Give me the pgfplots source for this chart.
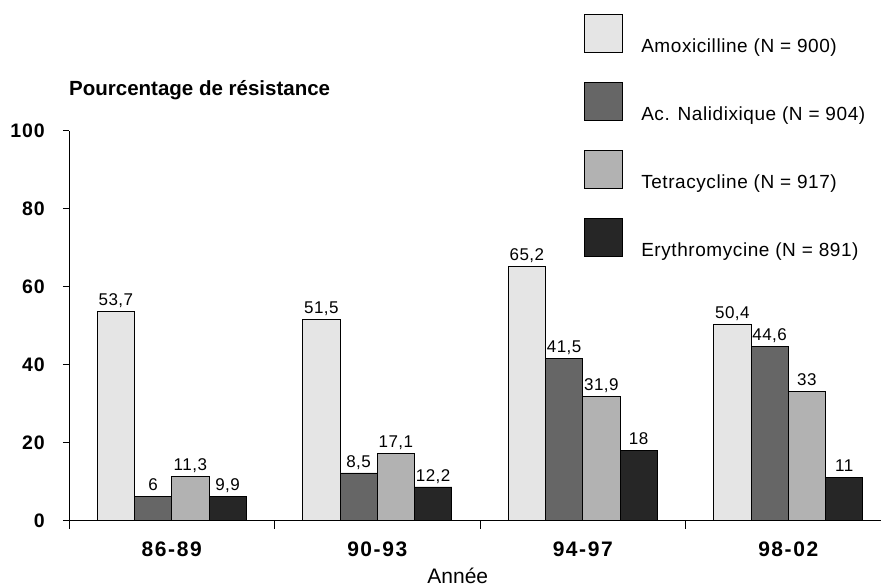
\documentclass[border=0pt]{standalone}
\usepackage{fontspec}
\setmainfont{Liberation Sans}
\usepackage{pgfplots}
\pgfplotsset{compat=1.18}
\usepackage{pgfplotstable}
\definecolor{camox}{HTML}{E5E5E5}
\definecolor{cnal}{HTML}{666666}
\definecolor{ctet}{HTML}{B2B2B2}
\definecolor{cery}{HTML}{262626}
\pgfplotsset{boxlegend/.style={legend image code/.code={\draw[##1,line width=0.8pt] (0pt,0pt) rectangle (38.4pt,38.4pt);}}}

\pgfplotstableread{
x y label
0 53.7 53,7
1 51.5 51,5
2 65.2 65,2
3 50.4 50,4
}\amox
\pgfplotstableread{
x y label
0 6.2 6
1 12.2 8,5
2 41.5 41,5
3 44.6 44,6
}\nal
\pgfplotstableread{
x y label
0 11.3 11,3
1 17.1 17,1
2 31.9 31,9
3 33 33
}\tet
\pgfplotstableread{
x y label
0 6.2 9,9
1 8.6 12,2
2 18 18
3 11 11
}\ery

\begin{document}
\begin{tikzpicture}
\useasboundingbox (0,0) rectangle (882pt,-587pt);
\begin{axis}[
  at={(69pt,-520.5pt)}, anchor=south west,
  x=205.5pt, y=3.9pt,
  xmin=-0.5, xmax=3.45, ymin=0, ymax=100,
  axis x line=bottom, axis y line=left,
  axis line style={-, line width=0.8pt, black},
  ybar=0pt, bar width=37.25pt,
  xtick={0,1,2,3}, xticklabels={86-89,90-93,94-97,98-02},
  minor xtick={-0.5,0.5,1.5,2.5},
  ytick={0,20,...,100},
  tick align=outside,
  major tick length=6pt, minor tick length=8pt,
  every major x tick/.append style={draw=none},
  tick style={black, line width=0.8pt},
  /pgf/number format/assume math mode=true,
  yticklabel style={font=\bfseries\fontsize{19.5}{19.5}\selectfont\addfontfeature{LetterSpace=5}, anchor=east, inner sep=0pt, xshift=-18pt},
  xticklabel style={font=\bfseries\fontsize{21}{21}\selectfont\addfontfeature{LetterSpace=7.5}, anchor=base, inner sep=0pt, yshift=-29.5pt},
  title={Pourcentage de résistance},
  title style={at={(axis description cs:0,1)}, anchor=base west, yshift=28.8pt, inner sep=0pt, font=\bfseries\fontsize{20.5}{20.5}\selectfont},
  xlabel={Année},
  xlabel style={at={(axis description cs:0.479,0)}, anchor=base, yshift=-62.5pt, inner sep=0pt, font=\fontsize{21}{21}\selectfont},
  nodes near coords, point meta=explicit symbolic,
  every node near coord/.append style={font=\fontsize{17}{17}\selectfont\addfontfeature{LetterSpace=3}, inner sep=0pt, text depth=0pt, anchor=south, yshift=5.5pt, text=black},
  legend style={at={(axis description cs:0.6345,1.30)}, anchor=north west, draw=none, fill=none, inner sep=0pt, outer sep=0pt, row sep=27.7pt, column sep=18pt, cells={anchor=base west}, nodes={inner sep=0pt, font=\fontsize{19}{19}\selectfont\addfontfeature{LetterSpace=3}}},
]
\addplot[fill=camox, draw=black, line width=0.8pt, boxlegend] table[x=x, y=y, meta=label] {\amox};
\addplot[fill=cnal, draw=black, line width=0.8pt, boxlegend] table[x=x, y=y, meta=label] {\nal};
\addplot[fill=ctet, draw=black, line width=0.8pt, boxlegend] table[x=x, y=y, meta=label] {\tet};
\addplot[fill=cery, draw=black, line width=0.8pt, boxlegend] table[x=x, y=y, meta=label] {\ery};
\legend{Amoxicilline (N = 900), Ac. Nalidixique (N = 904), Tetracycline (N = 917), Erythromycine (N = 891)}
\end{axis}
\end{tikzpicture}
\end{document}
